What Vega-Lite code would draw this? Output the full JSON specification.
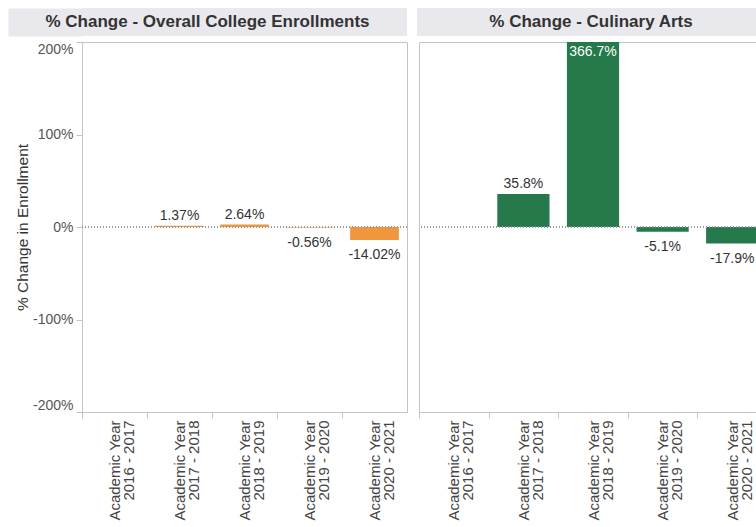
{
  "$schema": "https://vega.github.io/schema/vega-lite/v6.json",
  "background": "white",
  "padding": {"left": 15, "top": 8, "right": 0, "bottom": 0},
  "config": {
    "font": "Liberation Sans",
    "view": {"stroke": "#c4c4c4", "strokeWidth": 1},
    "axis": {"labelColor": "#555555", "titleColor": "#333333", "tickColor": "#c4c4c4", "domainColor": "#c4c4c4", "grid": false}
  },
  "datasets": {
    "overall": [
      {"year": "2016 - 2017", "pct": null},
      {"year": "2017 - 2018", "pct": 0.0137},
      {"year": "2018 - 2019", "pct": 0.0264},
      {"year": "2019 - 2020", "pct": -0.0056},
      {"year": "2020 - 2021", "pct": -0.1402}
    ],
    "culinary": [
      {"year": "2016 - 2017", "pct": null},
      {"year": "2017 - 2018", "pct": 0.358},
      {"year": "2018 - 2019", "pct": 3.667},
      {"year": "2019 - 2020", "pct": -0.051},
      {"year": "2020 - 2021", "pct": -0.179}
    ]
  },
  "spacing": 5,
  "vconcat": [
    {
      "spacing": 10,
      "hconcat": [
        {
          "width": 325, "height": 28,
          "view": {"fill": "#e9e9ed", "stroke": null},
          "data": {"values": [{"t": "% Change - Overall College Enrollments"}]},
          "mark": {"type": "text", "fontSize": 17, "fontWeight": "bold", "color": "#333333", "dx": -37},
          "encoding": {
            "text": {"field": "t", "type": "nominal"},
            "y": {"datum": 0.5, "type": "quantitative", "scale": {"domain": [0, 1]},
                  "axis": {"title": null, "labels": false, "ticks": false, "grid": false, "domain": true, "domainColor": "#e9e9ed", "domainWidth": 74, "domainCap": "butt", "offset": 37}}
          }
        },
        {
          "width": 348, "height": 28,
          "view": {"fill": "#e9e9ed", "stroke": null},
          "data": {"values": [{"t": "% Change - Culinary Arts"}]},
          "mark": {"type": "text", "fontSize": 17, "fontWeight": "bold", "color": "#333333"},
          "encoding": {"text": {"field": "t", "type": "nominal"}}
        }
      ]
    },
    {
      "spacing": 10,
      "hconcat": [
        {
          "width": 325, "height": 370,
          "data": {"name": "overall"},
          "layer": [
            {
              "mark": {"type": "bar", "color": "#F0963C"},
              "encoding": {
                "x": {"field": "year", "type": "nominal",
                      "scale": {"domain": ["2016 - 2017", "2017 - 2018", "2018 - 2019", "2019 - 2020", "2020 - 2021"], "paddingInner": 0.25, "paddingOuter": 0.125},
                      "axis": {"title": null, "labelAngle": -90, "labelExpr": "datum.value ? ['Academic Year', datum.value] : ''", "labelFontSize": 15, "labelLineHeight": 14, "labelPadding": 2, "tickSize": 6, "tickOffset": -32.5, "labelOffset": 32.5, "labelColor": "#444444"}},
                "y": {"field": "pct", "type": "quantitative",
                      "scale": {"domain": [-2, 2], "clamp": true, "nice": false},
                      "axis": {"title": "% Change in Enrollment", "titleFontSize": 15.5, "titleFontWeight": "normal", "titlePadding": 2, "values": [-2, -1, 0, 1, 2], "labelExpr": "replace(format(datum.value, '.0%'), '\u2212', '-')", "labelFlush": true, "labelFontSize": 14, "labelPadding": 3, "tickSize": 6}}
              }
            },
            {
              "transform": [{"filter": "datum.pct > 0"}, {"calculate": "replace(format(datum.pct, '.2%'), '\u2212', '-')", "as": "lbl"}],
              "mark": {"type": "text", "fontSize": 14, "color": "#333333", "baseline": "alphabetic", "dy": -6},
              "encoding": {
                "x": {"field": "year", "type": "nominal"},
                "y": {"field": "pct", "type": "quantitative"},
                "text": {"field": "lbl", "type": "nominal"}
              }
            },
            {
              "transform": [{"filter": "datum.pct < 0"}, {"calculate": "replace(format(datum.pct, '.2%'), '\u2212', '-')", "as": "lbl"}],
              "mark": {"type": "text", "fontSize": 14, "color": "#333333", "baseline": "top", "dy": 8},
              "encoding": {
                "x": {"field": "year", "type": "nominal"},
                "y": {"field": "pct", "type": "quantitative"},
                "text": {"field": "lbl", "type": "nominal"}
              }
            },
            {
              "mark": {"type": "rule", "color": "#999999", "strokeDash": [1, 2]},
              "encoding": {"y": {"datum": 0}}
            }
          ]
        },
        {
          "width": 348, "height": 370,
          "data": {"name": "culinary"},
          "layer": [
            {
              "mark": {"type": "bar", "color": "#25794B"},
              "encoding": {
                "x": {"field": "year", "type": "nominal",
                      "scale": {"domain": ["2016 - 2017", "2017 - 2018", "2018 - 2019", "2019 - 2020", "2020 - 2021"], "paddingInner": 0.25, "paddingOuter": 0.125},
                      "axis": {"title": null, "labelAngle": -90, "labelExpr": "datum.value ? ['Academic Year', datum.value] : ''", "labelFontSize": 15, "labelLineHeight": 14, "labelPadding": 2, "tickSize": 6, "tickOffset": -34.8, "labelOffset": 34.8, "labelColor": "#444444"}},
                "y": {"field": "pct", "type": "quantitative",
                      "scale": {"domain": [-2, 2], "clamp": true, "nice": false},
                      "axis": null}
              }
            },
            {
              "transform": [{"filter": "datum.pct > 0 && datum.pct <= 2"}, {"calculate": "replace(format(datum.pct, '.1%'), '\u2212', '-')", "as": "lbl"}],
              "mark": {"type": "text", "fontSize": 14, "color": "#333333", "baseline": "alphabetic", "dy": -6},
              "encoding": {
                "x": {"field": "year", "type": "nominal"},
                "y": {"field": "pct", "type": "quantitative"},
                "text": {"field": "lbl", "type": "nominal"}
              }
            },
            {
              "transform": [{"filter": "datum.pct > 2"}, {"calculate": "replace(format(datum.pct, '.1%'), '\u2212', '-')", "as": "lbl"}],
              "mark": {"type": "text", "fontSize": 14, "color": "white", "baseline": "top", "dy": 3},
              "encoding": {
                "x": {"field": "year", "type": "nominal"},
                "y": {"field": "pct", "type": "quantitative"},
                "text": {"field": "lbl", "type": "nominal"}
              }
            },
            {
              "transform": [{"filter": "datum.pct < 0"}, {"calculate": "replace(format(datum.pct, '.1%'), '\u2212', '-')", "as": "lbl"}],
              "mark": {"type": "text", "fontSize": 14, "color": "#333333", "baseline": "top", "dy": 8},
              "encoding": {
                "x": {"field": "year", "type": "nominal"},
                "y": {"field": "pct", "type": "quantitative"},
                "text": {"field": "lbl", "type": "nominal"}
              }
            },
            {
              "mark": {"type": "rule", "color": "#999999", "strokeDash": [1, 2]},
              "encoding": {"y": {"datum": 0}}
            }
          ]
        }
      ]
    }
  ]
}
